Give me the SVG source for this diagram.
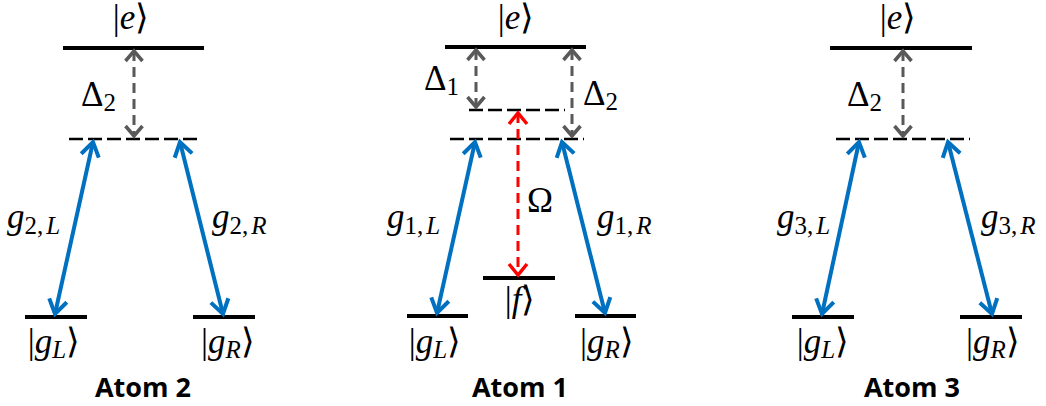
<svg xmlns="http://www.w3.org/2000/svg" width="1046" height="406" viewBox="0 0 1046 406">
<defs>
<style>
.lvl{stroke:#000;stroke-width:4;fill:none}
.vl{stroke:#000;stroke-width:2.5;stroke-dasharray:14 5;fill:none}
.blue{stroke:#0070C0;stroke-width:4;fill:none;marker-start:url(#hb);marker-end:url(#hb)}
.gray{stroke:#595959;stroke-width:3;stroke-dasharray:10 6;fill:none;marker-start:url(#hg);marker-end:url(#hg)}
.red{stroke:#FF0000;stroke-width:3;stroke-dasharray:10 6;fill:none;marker-start:url(#hr);marker-end:url(#hr)}
.m{font-family:"Liberation Serif","Times New Roman",serif;font-size:35px;fill:#000}
.d{font-size:35px}
.i{font-style:italic}
.s{font-size:25px}
.t{font-family:"Open Sans","Liberation Sans",sans-serif;font-weight:700;font-size:27px;fill:#000}
</style>
<marker id="hb" markerUnits="userSpaceOnUse" viewBox="-20 -14 26 28" markerWidth="26" markerHeight="28" refX="0" refY="0" orient="auto-start-reverse" overflow="visible">
<path d="M-14,-9 L0,0 L-14,9" fill="none" stroke="#0070C0" stroke-width="4" stroke-dasharray="none" stroke-linejoin="miter"/>
</marker>
<marker id="hg" markerUnits="userSpaceOnUse" viewBox="-14 -12 20 24" markerWidth="20" markerHeight="24" refX="0" refY="0" orient="auto-start-reverse" overflow="visible">
<path d="M-10,-8.5 L0,0 L-10,8.5" fill="none" stroke="#595959" stroke-width="3.5" stroke-dasharray="none"/>
</marker>
<marker id="hr" markerUnits="userSpaceOnUse" viewBox="-14 -12 20 24" markerWidth="20" markerHeight="24" refX="0" refY="0" orient="auto-start-reverse" overflow="visible">
<path d="M-11,-9 L0,0 L-11,9" fill="none" stroke="#FF0000" stroke-width="3.5" stroke-dasharray="none"/>
</marker>
</defs>
<rect width="1046" height="406" fill="#fff"/>

<g id="atom2">
<line class="lvl" x1="63" y1="48" x2="204" y2="48"/>
<line class="vl" x1="69" y1="139" x2="202" y2="139"/>
<line class="lvl" x1="25" y1="317" x2="87" y2="317"/>
<line class="lvl" x1="193" y1="317" x2="255" y2="317"/>
<text class="m" x="131" y="29" text-anchor="middle">|<tspan class="i">e</tspan>⟩</text>
<text class="m d" x="81" y="106">Δ<tspan class="s" dy="5">2</tspan></text>
<text class="m" x="7" y="228"><tspan class="i">g</tspan><tspan class="s" dy="6">2,<tspan class="i" dx="3">L</tspan></tspan></text>
<text class="m" x="212" y="228"><tspan class="i">g</tspan><tspan class="s" dy="6">2,<tspan class="i" dx="3">R</tspan></tspan></text>
<text class="m" x="54" y="353" text-anchor="middle">|<tspan class="i">g</tspan><tspan class="s i" dy="5">L</tspan><tspan dy="-5">⟩</tspan></text>
<text class="m" x="228" y="353" text-anchor="middle">|<tspan class="i">g</tspan><tspan class="s i" dy="5">R</tspan><tspan dy="-5">⟩</tspan></text>
<text class="t" x="143" y="397" text-anchor="middle">Atom 2</text>
</g>

<g id="atom1">
<line class="lvl" x1="445" y1="47" x2="586" y2="47"/>
<line class="vl" x1="469" y1="110" x2="565" y2="110"/>
<line class="vl" x1="450" y1="139" x2="584" y2="139"/>
<line class="lvl" x1="483" y1="278" x2="555" y2="278"/>
<line class="lvl" x1="407" y1="316" x2="468" y2="316"/>
<line class="lvl" x1="575" y1="316" x2="636" y2="316"/>
<text class="m" x="516" y="29" text-anchor="middle">|<tspan class="i">e</tspan>⟩</text>
<text class="m d" x="424" y="90">Δ<tspan class="s" dy="5">1</tspan></text>
<text class="m d" x="583" y="105">Δ<tspan class="s" dy="5">2</tspan></text>
<text class="m d" x="527" y="212">Ω</text>
<text class="m" x="520" y="311" text-anchor="middle">|<tspan class="i">f</tspan>⟩</text>
<text class="m" x="387" y="228"><tspan class="i">g</tspan><tspan class="s" dy="6">1,<tspan class="i" dx="3">L</tspan></tspan></text>
<text class="m" x="597" y="228"><tspan class="i">g</tspan><tspan class="s" dy="6">1,<tspan class="i" dx="3">R</tspan></tspan></text>
<text class="m" x="435" y="353" text-anchor="middle">|<tspan class="i">g</tspan><tspan class="s i" dy="5">L</tspan><tspan dy="-5">⟩</tspan></text>
<text class="m" x="607" y="353" text-anchor="middle">|<tspan class="i">g</tspan><tspan class="s i" dy="5">R</tspan><tspan dy="-5">⟩</tspan></text>
<text class="t" x="520" y="397" text-anchor="middle">Atom 1</text>
</g>

<g id="atom3">
<line class="lvl" x1="830" y1="48" x2="972" y2="48"/>
<line class="vl" x1="836" y1="139" x2="970" y2="139"/>
<line class="lvl" x1="792" y1="317" x2="854" y2="317"/>
<line class="lvl" x1="960" y1="317" x2="1022" y2="317"/>
<text class="m" x="898" y="29" text-anchor="middle">|<tspan class="i">e</tspan>⟩</text>
<text class="m d" x="847" y="106">Δ<tspan class="s" dy="5">2</tspan></text>
<text class="m" x="777" y="228"><tspan class="i">g</tspan><tspan class="s" dy="6">3,<tspan class="i" dx="3">L</tspan></tspan></text>
<text class="m" x="981" y="228"><tspan class="i">g</tspan><tspan class="s" dy="6">3,<tspan class="i" dx="3">R</tspan></tspan></text>
<text class="m" x="823" y="353" text-anchor="middle">|<tspan class="i">g</tspan><tspan class="s i" dy="5">L</tspan><tspan dy="-5">⟩</tspan></text>
<text class="m" x="993" y="353" text-anchor="middle">|<tspan class="i">g</tspan><tspan class="s i" dy="5">R</tspan><tspan dy="-5">⟩</tspan></text>
<text class="t" x="912" y="397" text-anchor="middle">Atom 3</text>
</g>

<g id="connectors">
<line class="gray" x1="134" y1="51" x2="134" y2="136"/>
<line class="blue" x1="93" y1="142" x2="55" y2="314"/>
<line class="blue" x1="180" y1="142" x2="223" y2="314"/>

<line class="gray" x1="476" y1="50" x2="476" y2="107"/>
<line class="gray" x1="572" y1="50" x2="572" y2="136"/>
<line class="red" x1="518" y1="113" x2="518" y2="275"/>
<line class="blue" x1="475" y1="142" x2="437" y2="313"/>
<line class="blue" x1="562" y1="142" x2="605" y2="313"/>

<line class="gray" x1="903" y1="51" x2="903" y2="136"/>
<line class="blue" x1="859" y1="142" x2="822" y2="314"/>
<line class="blue" x1="948" y1="142" x2="992" y2="314"/>
</g>
</svg>
